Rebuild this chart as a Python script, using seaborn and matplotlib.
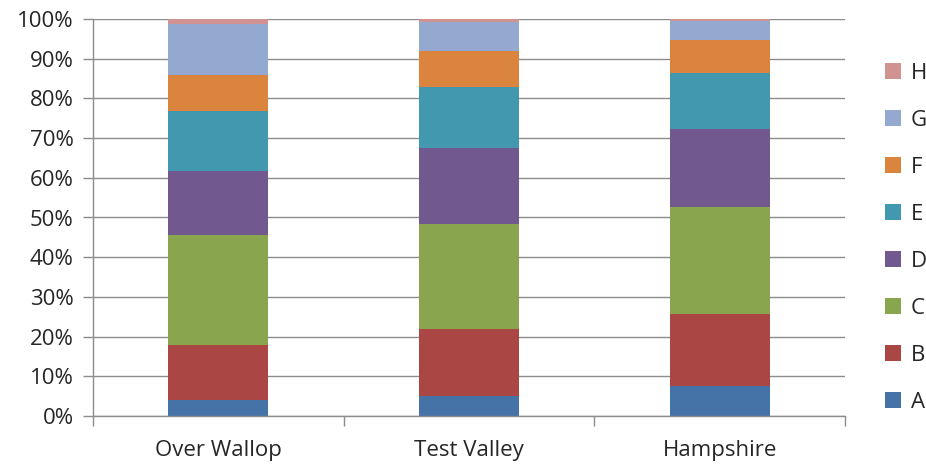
import pandas as pd
import numpy as np
import matplotlib.pyplot as plt
import seaborn as sns
from matplotlib.patches import Patch
from matplotlib.ticker import PercentFormatter

# data (percent of each area)
areas = ["Over Wallop", "Test Valley", "Hampshire"]
series = ["A", "B", "C", "D", "E", "F", "G", "H"]
A = [4.0, 5.0, 7.5]
B = [13.8, 17.0, 18.1]
C = [27.7, 26.4, 27.0]
D = [16.1, 19.1, 19.7]
E = [15.3, 15.4, 14.2]
F = [9.0, 9.1, 8.1]
G = [12.9, 7.2, 4.9]
H = [1.2, 0.8, 0.5]
colors = ["#4572A7", "#AA4643", "#89A54E", "#71588F",
          "#4198AF", "#DB843D", "#93A9CF", "#D19392"]

vals = np.array([A, B, C, D, E, F, G, H])
cum = vals.cumsum(axis=0)

sns.set_style("white")
plt.rcParams['font.family'] = ['Open Sans', 'DejaVu Sans']

fig = plt.figure(figsize=(9.26, 4.65), dpi=100)
ax = fig.add_axes([93 / 926, 1 - 416 / 465, (845 - 93) / 926, (416 - 19) / 465])

# stack by drawing cumulative totals from the top down
for i in range(len(series) - 1, -1, -1):
    df = pd.DataFrame({"area": areas, "value": cum[i]})
    sns.barplot(data=df, x="area", y="value", color=colors[i],
                width=0.4, saturation=1, linewidth=0, ax=ax, zorder=2)

ax.set_ylim(0, 100)
ax.set_xlim(-0.5, 2.5)
ax.set_yticks(range(0, 101, 10))
ax.yaxis.set_major_formatter(PercentFormatter(decimals=0))
ax.set_xlabel("")
ax.set_ylabel("")

grid_c = "#8c8c8c"
txt_c = "#262626"
ax.grid(axis="y", color=grid_c, linewidth=1, zorder=0)
ax.set_axisbelow(True)
for s in ["top", "right"]:
    ax.spines[s].set_visible(False)
for s in ["left", "bottom"]:
    ax.spines[s].set_color(grid_c)
    ax.spines[s].set_linewidth(1)

ax.set_xticks([0, 1, 2])
ax.set_xticklabels(areas)
ax.set_xticks([-0.5, 0.5, 1.5, 2.5], minor=True)
ax.tick_params(axis="x", which="major", length=0, pad=17, labelsize=16, labelcolor=txt_c)
ax.tick_params(axis="x", which="minor", length=7, color=grid_c, width=1, direction="out")
ax.tick_params(axis="y", length=7, color=grid_c, width=1, direction="out", pad=7,
               labelsize=16, labelcolor=txt_c)
ax.tick_params(left=True, bottom=True)
ax.tick_params(axis="x", which="minor", bottom=True)

handles = [Patch(facecolor=colors[i], linewidth=0, label=series[i])
           for i in range(len(series) - 1, -1, -1)]
fig.legend(handles=handles, loc="center left", bbox_to_anchor=(885 / 926, 1 - 238 / 465),
           frameon=False, fontsize=16, labelspacing=1.17, handlelength=0.7, handleheight=0.7,
           handletextpad=0.45, borderaxespad=0, borderpad=0, labelcolor=txt_c)

fig.savefig("out.png", dpi=100)
